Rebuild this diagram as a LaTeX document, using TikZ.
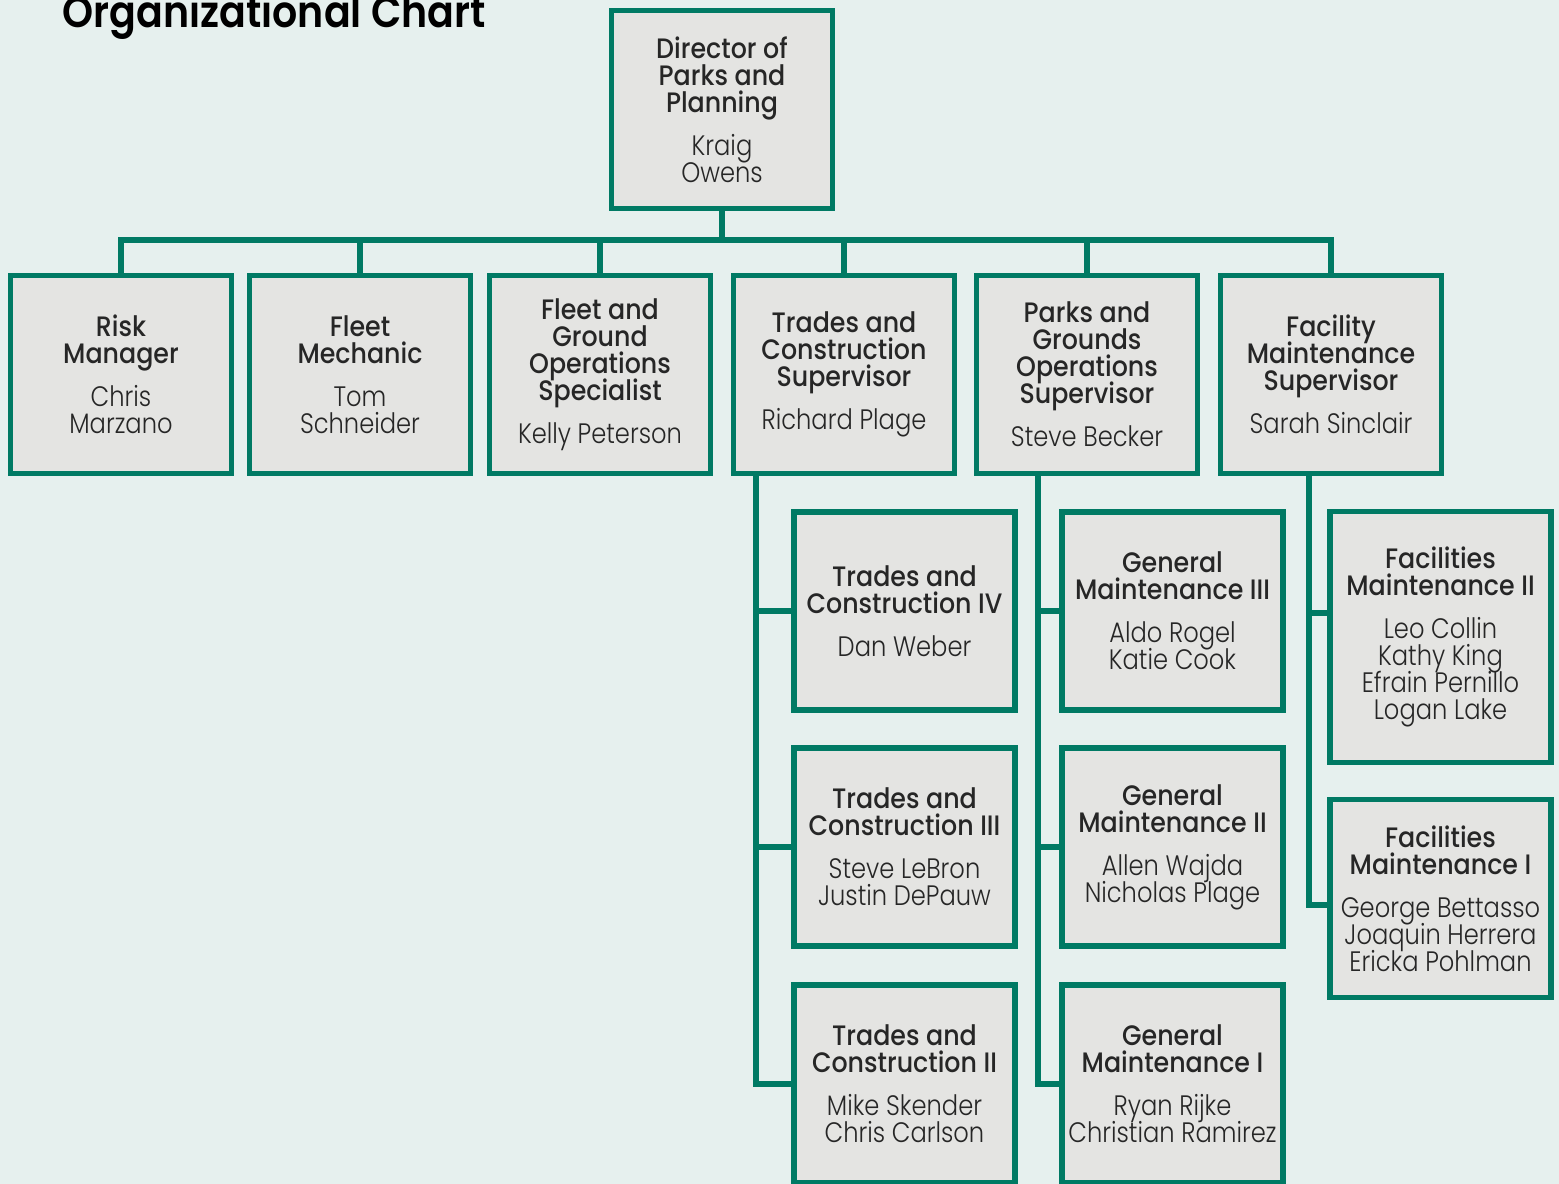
\documentclass[tikz,border=0pt]{standalone}
\usepackage{fontspec}
\setmainfont{Poppins}
\newfontfamily\headfont{Poppins SemiBold}[FakeStretch=0.9]
\newfontfamily\postfont{Poppins Medium}[FakeStretch=0.9]
\newfontfamily\staff{Poppins Light}[FakeStretch=0.86]
\usepackage{xcolor}
\usetikzlibrary{positioning}
\definecolor{chartbg}{RGB}{230,240,238}
\definecolor{boxfill}{RGB}{228,228,226}
\definecolor{boxline}{RGB}{0,122,100}
\definecolor{ink}{RGB}{38,38,38}
\newcommand{\posttitle}{\postfont\fontsize{8}{7.7}\selectfont}
\newcommand{\staffname}{\staff\fontsize{8}{7.7}\selectfont}
% post title over the people who hold it
\newcommand{\entry}[2]{\vbox{\hsize=2.15cm\lineskiplimit=-10pt\centering
  \posttitle #1\par\vspace{4.5pt}\staffname #2\par}}

\begin{document}
\begin{tikzpicture}[
  box/.style={draw=boxline,line width=1.5pt,fill=boxfill,minimum width=2.21cm,
    minimum height=1.98cm,inner sep=0pt,text=ink},
  link/.style={draw=boxline,line width=1.5pt}
]
\useasboundingbox (0,0) rectangle (15.59,-11.84);
\fill[chartbg] (0,0) rectangle (15.59,-11.84);
\node[anchor=base west,inner sep=0pt,font=\headfont\fontsize{12.5}{12.5}\selectfont] (title) at (0.62,-0.28) {Organizational Chart};

\node[box] (director) at (7.22,-1.095) {\entry{Director of\\Parks and\\Planning}{Kraig\\Owens}};

\node[box] (risk) at (1.21,-3.745) {\entry{Risk\\Manager}{Chris\\Marzano}};
\node[box] (mechanic) at (3.60,-3.745) {\entry{Fleet\\Mechanic}{Tom\\Schneider}};
\node[box] (fleetops) at (6.00,-3.745) {\entry{Fleet and\\Ground\\Operations\\Specialist}{Kelly Peterson}};
\node[box] (trades) at (8.44,-3.745) {\entry{Trades and\\Construction\\Supervisor}{Richard Plage}};
\node[box] (parks) at (10.87,-3.745) {\entry{Parks and\\Grounds\\Operations\\Supervisor}{Steve Becker}};
\node[box] (facility) at (13.31,-3.745) {\entry{Facility\\Maintenance\\Supervisor}{Sarah Sinclair}};

\node[box] (tc4) at (9.045,-6.11) {\entry{Trades and\\Construction IV}{Dan Weber}};
\node[box] (tc3) at (9.045,-8.47) {\entry{Trades and\\Construction III}{Steve LeBron\\Justin DePauw}};
\node[box] (tc2) at (9.045,-10.84) {\entry{Trades and\\Construction II}{Mike Skender\\Chris Carlson}};

\node[box] (gm3) at (11.725,-6.11) {\entry{General\\Maintenance III}{Aldo Rogel\\Katie Cook}};
\node[box] (gm2) at (11.725,-8.47) {\entry{General\\Maintenance II}{Allen Wajda\\Nicholas Plage}};
\node[box] (gm1) at (11.725,-10.84) {\entry{General\\Maintenance I}{Ryan Rijke\\Christian Ramirez}};

\node[box,minimum height=2.51cm] (fm2) at (14.405,-6.37) {\entry{Facilities\\Maintenance II}{Leo Collin\\Kathy King\\Efrain Pernillo\\Logan Lake}};
\node[box] (fm1) at (14.405,-8.985) {\entry{Facilities\\Maintenance I}{George Bettasso\\Joaquin Herrera\\Ericka Pohlman}};

\coordinate (bus) at (7.22,-2.40);
\coordinate (ttrunk) at ([xshift=-0.88cm]trades.south);
\coordinate (ptrunk) at ([xshift=-0.49cm]parks.south);
\coordinate (ftrunk) at ([xshift=-0.22cm]facility.south);

\draw[link] (director.south) -- (bus);
\draw[link] (risk.north) -- (risk.north |- bus) -- (facility.north |- bus) -- (facility.north);
\foreach \n in {mechanic,fleetops,trades,parks}{
  \draw[link] (\n.north |- bus) -- (\n.north);
}

\foreach \n in {tc4,tc3,tc2}{
  \draw[link] (ttrunk) |- (\n.west);
}
\foreach \n in {gm3,gm2,gm1}{
  \draw[link] (ptrunk) |- (\n.west);
}
\draw[link] (ftrunk) |- ([yshift=0.24cm]fm2.west);
\draw[link] (ftrunk) |- ([yshift=-0.065cm]fm1.west);
\end{tikzpicture}
\end{document}
